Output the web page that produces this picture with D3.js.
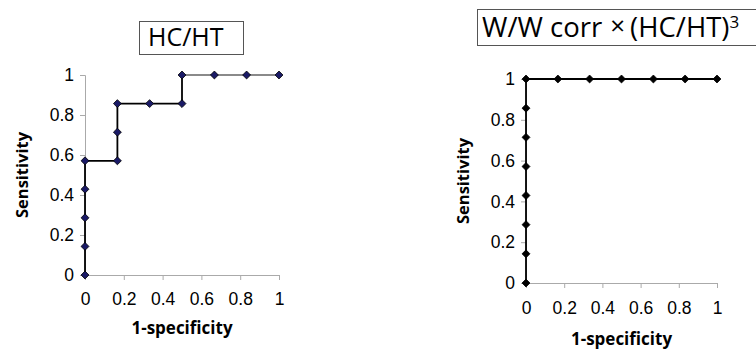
<!DOCTYPE html>
<html>
<head>
<meta charset="utf-8">
<script src="https://cdn.jsdelivr.net/npm/d3@7"></script>
<style>
  body { margin: 0; background: #fff; }
  svg { display: block; font-family: "Open Sans", "Noto Sans", sans-serif; }
</style>
</head>
<body>
<div id="chart"></div>
<script>
// 数据：ROC 曲线上的点 (1-specificity, sensitivity)
var titles = ["HC/HT", "W/W corr"];
var fprLeft  = [0, 0, 0, 0, 0, 0.167, 0.167, 0.167, 0.333, 0.5, 0.5, 0.667, 0.833, 1];
var sensLeft = [0, 0.143, 0.286, 0.429, 0.571, 0.571, 0.714, 0.857, 0.857, 0.857, 1, 1, 1, 1];
var fprRight  = [0, 0, 0, 0, 0, 0, 0, 0, 0.167, 0.333, 0.5, 0.667, 0.833, 1];
var sensRight = [0, 0.143, 0.286, 0.429, 0.571, 0.714, 0.857, 1, 1, 1, 1, 1, 1, 1];
var tickValues = [0, 0.2, 0.4, 0.6, 0.8, 1];
var tickLabels = ["0", "0.2", "0.4", "0.6", "0.8", "1"];
var xAxisTitle = "1-specificity";
var yAxisTitle = "Sensitivity";

var svg = d3.select("#chart").append("svg")
    .attr("width", 756)
    .attr("height", 349);

function drawRoc(opts) {
    var x = d3.scaleLinear().domain([0, 1]).range([opts.left, opts.right]);
    var y = d3.scaleLinear().domain([0, 1]).range([opts.bottom, opts.top]);
    var data = opts.fpr.map(function (f, i) { return { fpr: f, sens: opts.sens[i] }; });
    var fmt = function (d) { return tickLabels[tickValues.indexOf(d)]; };

    // 标题框
    var tb = opts.titleBox;
    svg.append("rect")
        .attr("x", tb.x + 0.5).attr("y", tb.y + 0.5)
        .attr("width", tb.w).attr("height", tb.h)
        .attr("fill", "#fff").attr("stroke", "#555").attr("stroke-width", 1);
    var t = svg.append("text")
        .attr("x", tb.x + opts.titleInset).attr("y", opts.titleBaseline)
        .style("font-size", opts.titleSize + "px").attr("fill", "#000")
        .text(opts.title);
    if (opts.titleExtra) opts.titleExtra(t);

    // 坐标轴
    var xAxis = svg.append("g")
        .attr("transform", "translate(0," + opts.bottom + ")")
        .call(d3.axisBottom(x).tickValues(tickValues).tickFormat(fmt).tickSize(5).tickPadding(opts.xPad));
    var yAxis = svg.append("g")
        .attr("transform", "translate(" + opts.left + ",0)")
        .call(d3.axisLeft(y).tickValues(tickValues).tickFormat(fmt).tickSize(5).tickPadding(6));
    [xAxis, yAxis].forEach(function (g) {
        g.select(".domain").attr("stroke", "#aaa");
        g.selectAll(".tick line").attr("stroke", "#aaa");
        g.selectAll(".tick text").style("font-size", "17.5px").attr("fill", "#000");
    });

    // 轴标题
    svg.append("text")
        .attr("x", (opts.left + opts.right) / 2).attr("y", opts.xTitleY)
        .attr("text-anchor", "middle")
        .style("font-size", "17px").style("font-weight", "bold")
        .text(xAxisTitle);
    svg.append("text")
        .attr("transform", "translate(" + opts.yTitleX + "," + (opts.top + opts.bottom) / 2 + ") rotate(-90)")
        .attr("text-anchor", "middle")
        .style("font-size", "16.5px").style("font-weight", "bold")
        .text(yAxisTitle);

    // 曲线：逐段绘制，顶部水平段颜色可单独设置
    var segs = d3.pairs(data);
    svg.selectAll(null)
        .data(segs)
        .enter().append("line")
        .attr("x1", function (s) { return x(s[0].fpr); })
        .attr("y1", function (s) { return y(s[0].sens); })
        .attr("x2", function (s) { return x(s[1].fpr); })
        .attr("y2", function (s) { return y(s[1].sens); })
        .attr("stroke", function (s) { return (s[0].sens === 1 && s[1].sens === 1) ? opts.topColor : "#000"; })
        .attr("stroke-width", 1.8)
        .attr("stroke-linecap", "square");

    // 菱形标记
    svg.selectAll(null)
        .data(data)
        .enter().append("path")
        .attr("d", d3.symbol().type(d3.symbolDiamond2).size(40))
        .attr("transform", function (d) { return "translate(" + x(d.fpr) + "," + y(d.sens) + ")"; })
        .attr("fill", opts.markerFill)
        .attr("stroke", "#000")
        .attr("stroke-width", 0.8);
}

drawRoc({
    title: titles[0],
    fpr: fprLeft, sens: sensLeft,
    left: 85, right: 279, top: 75, bottom: 275,
    titleBox: { x: 139, y: 21, w: 104, h: 33 },
    titleInset: 9, titleSize: 25, titleBaseline: 46,
    xPad: 13, xTitleY: 334, yTitleX: 28,
    markerFill: "#1a1a66", topColor: "#8a8a8a"
});

drawRoc({
    title: titles[1],
    titleExtra: function (t) {
        t.append("tspan").text("\u00d7").style("font-size", "26px").attr("dx", 8).attr("dy", -2);
        t.append("tspan").text("(HC/HT)").attr("dx", 5).attr("dy", 2);
        t.append("tspan").text("3").style("font-size", "17px").attr("dy", -9);
    },
    fpr: fprRight, sens: sensRight,
    left: 526, right: 717, top: 79, bottom: 283,
    titleBox: { x: 477, y: 9, w: 300, h: 36 },
    titleInset: 5, titleSize: 27.5, titleBaseline: 37,
    xPad: 14, xTitleY: 345, yTitleX: 469,
    markerFill: "#000", topColor: "#000"
});
</script>
</body>
</html>
